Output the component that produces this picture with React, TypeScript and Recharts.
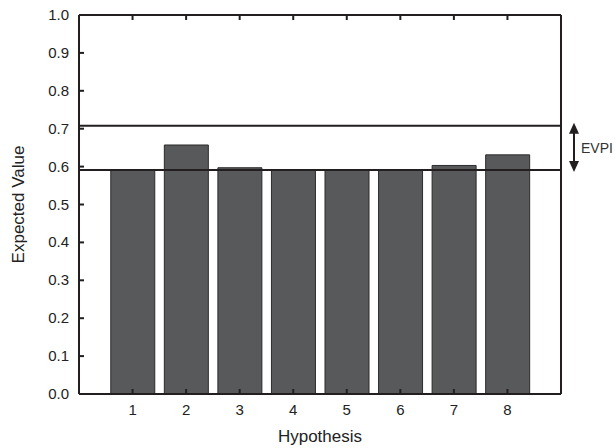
import {
  ComposedChart,
  Bar,
  XAxis,
  YAxis,
  ReferenceLine,
  ReferenceArea,
} from "recharts";

const hypotheses = [1, 2, 3, 4, 5, 6, 7, 8];
const expectedValues = [0.59, 0.657, 0.597, 0.59, 0.59, 0.59, 0.603, 0.631];
const yTicks = [0, 0.1, 0.2, 0.3, 0.4, 0.5, 0.6, 0.7, 0.8, 0.9, 1.0];
const baselineValue = 0.591;
const perfectInfoValue = 0.708;

const data = hypotheses.map((h, i) => ({ h, value: expectedValues[i] }));

const ink = "#231f20";
const textColor = "#222";
const font = "Arial, 'Liberation Sans', sans-serif";
const tickLen = 5;

// ticks point into the plot, labels stay outside
function BottomTick(props: any) {
  const { x, y, payload } = props;
  return (
    <g>
      <line x1={x} x2={x} y1={y} y2={y - tickLen} stroke={ink} strokeWidth={2} />
      <text x={x} y={y + 21} textAnchor="middle" style={{ fontSize: 15 }} fill={textColor} fontFamily={font}>
        {payload.value}
      </text>
    </g>
  );
}

function TopTick(props: any) {
  const { x, y } = props;
  return <line x1={x} x2={x} y1={y} y2={y + tickLen} stroke={ink} strokeWidth={2} />;
}

function LeftTick(props: any) {
  const { x, y, payload } = props;
  return (
    <g>
      <line x1={x} x2={x + tickLen} y1={y} y2={y} stroke={ink} strokeWidth={2} />
      <text x={x - 10} y={y + 5} textAnchor="end" style={{ fontSize: 15 }} fill={textColor} fontFamily={font}>
        {Number(payload.value).toFixed(1)}
      </text>
    </g>
  );
}

function RightTick(props: any) {
  const { x, y } = props;
  return <line x1={x} x2={x - tickLen} y1={y} y2={y} stroke={ink} strokeWidth={2} />;
}

function EvpiArrow(props: any) {
  const { x, y, width, height } = props;
  const ax = x + width + 13;
  const top = y - 3;
  const bottom = y + height + 2;
  return (
    <g>
      <line x1={ax} x2={ax} y1={top + 8} y2={bottom - 8} stroke={ink} strokeWidth={2} />
      <polygon points={`${ax - 5},${top + 11} ${ax + 5},${top + 11} ${ax},${top}`} fill={ink} />
      <polygon points={`${ax - 5},${bottom - 11} ${ax + 5},${bottom - 11} ${ax},${bottom}`} fill={ink} />
      <text x={ax + 7} y={y + height / 2 + 5} style={{ fontSize: 14 }} fill="#333" fontFamily={font}>
        EVPI
      </text>
    </g>
  );
}

export default function App() {
  return (
    <div style={{ position: "absolute", left: 0, top: 0, background: "#fff" }}>
      <ComposedChart
        width={616}
        height={448}
        data={data}
        margin={{ top: 14, right: 54, bottom: 0, left: 0 }}
        style={{ fontFamily: font }}
      >
        <XAxis
          xAxisId="bottom"
          dataKey="h"
          type="number"
          domain={[0, 9]}
          ticks={hypotheses}
          interval={0}
          height={54}
          tickSize={0}
          tickMargin={0}
          tickLine={false}
          stroke={ink}
          strokeWidth={2}
          tick={(p: any) => <BottomTick {...p} />}
          label={{ value: "Hypothesis", position: "insideBottom", offset: 6, fill: textColor, fontSize: 17 }}
        />
        <XAxis
          xAxisId="top"
          orientation="top"
          dataKey="h"
          type="number"
          domain={[0, 9]}
          ticks={hypotheses}
          interval={0}
          height={1}
          tickSize={0}
          tickMargin={0}
          tickLine={false}
          stroke={ink}
          strokeWidth={2}
          tick={(p: any) => <TopTick {...p} />}
        />
        <YAxis
          yAxisId="left"
          domain={[0, 1]}
          ticks={yTicks}
          interval={0}
          width={79}
          tickSize={0}
          tickMargin={0}
          tickLine={false}
          stroke={ink}
          strokeWidth={2}
          tick={(p: any) => <LeftTick {...p} />}
          label={{
            value: "Expected Value",
            angle: -90,
            position: "insideLeft",
            offset: 18,
            fill: textColor,
            fontSize: 17,
            style: { textAnchor: "middle" },
          }}
        />
        <YAxis
          yAxisId="right"
          orientation="right"
          domain={[0, 1]}
          ticks={yTicks}
          interval={0}
          width={1}
          tickSize={0}
          tickMargin={0}
          tickLine={false}
          stroke={ink}
          strokeWidth={2}
          tick={(p: any) => <RightTick {...p} />}
        />
        <Bar
          xAxisId="bottom"
          yAxisId="left"
          dataKey="value"
          barSize={44}
          fill="#58595b"
          stroke="#2b2b2b"
          strokeWidth={1}
          isAnimationActive={false}
        />
        <ReferenceLine xAxisId="bottom" yAxisId="left" y={perfectInfoValue} stroke={ink} strokeWidth={2} />
        <ReferenceLine xAxisId="bottom" yAxisId="left" y={baselineValue} stroke={ink} strokeWidth={2} />
        <ReferenceArea
          xAxisId="bottom"
          yAxisId="left"
          y1={baselineValue}
          y2={perfectInfoValue}
          fill="none"
          stroke="none"
          shape={(p: any) => <EvpiArrow {...p} />}
        />
      </ComposedChart>
    </div>
  );
}
